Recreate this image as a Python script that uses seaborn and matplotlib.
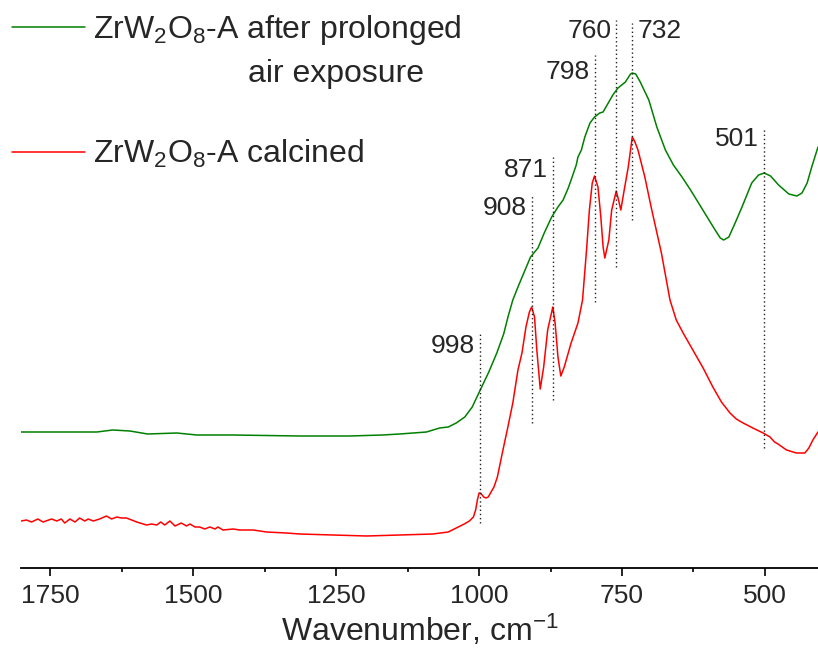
import matplotlib
matplotlib.use("Agg")
import matplotlib.pyplot as plt
import numpy as np
import pandas as pd
import seaborn as sns

# FTIR spectra, absorbance in arbitrary units (curves offset vertically)
aged_wn = [1801, 1669, 1641, 1611, 1580, 1529, 1494, 1431, 1314, 1227, 1169, 1139,
           1092, 1069, 1054, 1040, 1025, 1012, 998, 983, 969, 957, 949, 941, 932,
           921, 910, 897, 886, 873, 862, 853, 844, 839, 830, 827, 821, 815, 806,
           798, 789, 783, 774, 766, 757, 744, 735, 732, 726, 718, 703, 689, 674,
           660, 645, 630, 616, 601, 587, 578, 572, 563, 552, 540, 523, 511, 501,
           490, 476, 458, 444, 435, 426, 418, 407]
aged_abs = [1.36, 1.36, 1.38, 1.37, 1.34, 1.35, 1.33, 1.33, 1.32, 1.32, 1.33, 1.34,
            1.36, 1.40, 1.41, 1.45, 1.51, 1.61, 1.78, 1.96, 2.15, 2.34, 2.52, 2.68, 2.81,
            2.96, 3.11, 3.20, 3.35, 3.51, 3.61, 3.68, 3.80, 3.88, 4.03, 4.11, 4.18, 4.31, 4.45,
            4.51, 4.55, 4.56, 4.65, 4.73, 4.80, 4.86, 4.94, 4.95, 4.94, 4.86, 4.68, 4.41, 4.18,
            4.03, 3.91, 3.78, 3.65, 3.51, 3.38, 3.30, 3.28, 3.31, 3.45, 3.61, 3.85, 3.93, 3.95,
            3.92, 3.83, 3.74, 3.72, 3.75, 3.85, 4.01, 4.21]

calc_wn = [1801, 1792, 1783, 1772, 1763, 1748, 1739, 1731, 1725, 1716, 1707, 1699,
           1690, 1684, 1675, 1664, 1652, 1643, 1634, 1626, 1617, 1599, 1582, 1573,
           1564, 1557, 1550, 1541, 1532, 1521, 1512, 1506, 1497, 1489, 1480, 1471,
           1462, 1457, 1448, 1430, 1419, 1395, 1372, 1337, 1314, 1255, 1197, 1139,
           1081, 1054, 1040, 1026, 1017, 1010, 1006, 1003, 1000, 998, 996, 992, 988,
           984, 980, 974, 968, 959, 950, 941, 932, 925, 918, 912, 908, 903, 899, 893,
           887, 880, 871, 867, 862, 857, 851, 839, 827, 819, 812, 807, 802, 798, 792,
           787, 783, 780, 773, 768, 760, 756, 752, 747, 739, 735, 732, 728, 722, 710,
           699, 681, 666, 655, 643, 626, 608, 591, 576, 561, 550, 538, 521, 503, 491,
           483, 477, 462, 445, 430, 423, 416, 407]
calc_abs = [0.47, 0.48, 0.46, 0.49, 0.46, 0.49, 0.47, 0.49, 0.45, 0.49, 0.46, 0.50,
            0.47, 0.49, 0.47, 0.49, 0.52, 0.49, 0.51, 0.50, 0.50, 0.46, 0.43, 0.44,
            0.43, 0.46, 0.43, 0.47, 0.42, 0.45, 0.42, 0.44, 0.41, 0.41, 0.39, 0.41,
            0.39, 0.41, 0.38, 0.39, 0.38, 0.38, 0.36, 0.35, 0.34, 0.33, 0.32, 0.33,
            0.34, 0.36, 0.40, 0.44, 0.47, 0.51, 0.58, 0.68, 0.75, 0.75, 0.74, 0.71, 0.70,
            0.71, 0.75, 0.81, 0.91, 1.16, 1.40, 1.65, 1.98, 2.15, 2.41, 2.56, 2.61, 2.51, 2.18, 1.79,
            2.01, 2.38, 2.61, 2.45, 2.11, 1.92, 2.01, 2.25, 2.45, 2.68, 3.18, 3.58, 3.85, 3.92, 3.81,
            3.51, 3.21, 3.10, 3.28, 3.58, 3.77, 3.68, 3.58, 3.75, 4.01, 4.18, 4.31, 4.27, 4.18, 3.91,
            3.61, 3.15, 2.68, 2.48, 2.35, 2.18, 2.00, 1.81, 1.66, 1.55, 1.49, 1.45, 1.40, 1.35, 1.31,
            1.26, 1.24, 1.18, 1.15, 1.15, 1.20, 1.28, 1.36]

# assigned bands: position, dotted marker extent, label baseline
band_wn = [998, 908, 871, 798, 760, 732, 501]
band_low = [0.45, 1.45, 1.68, 2.66, 3.01, 3.48, 1.20]
band_high = [2.35, 3.73, 4.11, 5.13, 5.48, 5.45, 4.40]
band_text_y = [2.15, 3.53, 3.91, 4.89, 5.30, 5.30, 4.22]
band_text_side = ["left", "left", "left", "left", "left", "right", "left"]

x_ticks = [1750, 1500, 1250, 1000, 750, 500]

GREEN = "#008000"
RED = "#ff0000"

sns.set_theme(style="white")
plt.rcParams["font.family"] = ["Liberation Sans", "DejaVu Sans"]
plt.rcParams["mathtext.default"] = "regular"

df = pd.concat([
    pd.DataFrame({"wn": aged_wn, "abs": aged_abs, "sample": "aged"}),
    pd.DataFrame({"wn": calc_wn, "abs": calc_abs, "sample": "calcined"}),
])

fig = plt.figure(figsize=(8.18, 6.5), dpi=100)
ax = fig.add_axes([21.3 / 818, 82 / 650, 1 - 21.3 / 818, 568 / 650])

sns.lineplot(data=df, x="wn", y="abs", hue="sample", palette={"aged": GREEN, "calcined": RED},
             estimator=None, sort=False, linewidth=1.1, legend=False, ax=ax)

ax.vlines(band_wn, band_low, band_high, colors="#222222", linestyles=(0, (1, 2)), linewidth=1.0)
for wn, ty, side in zip(band_wn, band_text_y, band_text_side):
    if side == "left":
        ax.text(wn + 8.7, ty, str(wn), ha="right", va="baseline", fontsize=19)
    else:
        ax.text(wn - 8.7, ty, str(wn), ha="left", va="baseline", fontsize=19)

ax.set_xlim(1801, 407)
ax.set_ylim(0, 5.68)
ax.set_xticks(x_ticks)
ax.set_xticks([1625, 1375, 1125, 875, 625], minor=True)
ax.set_yticks([])
for side in ["left", "right", "top"]:
    ax.spines[side].set_visible(False)
ax.spines["bottom"].set_linewidth(1.3)
ax.spines["bottom"].set_color("black")
ax.tick_params(axis="x", which="major", direction="out", length=5.8, width=1.2,
               color="black", labelsize=19, pad=6, bottom=True)
ax.tick_params(axis="x", which="minor", direction="out", length=3, width=1.2,
               color="black", bottom=True)
ax.set_xlabel("Wavenumber, cm$^{-1}$", fontsize=23, labelpad=3)
ax.set_ylabel("")

# legend drawn in figure coordinates
fig.add_artist(plt.Line2D([12 / 818, 85 / 818], [1 - 26.7 / 650] * 2, color=GREEN, lw=1.1))
fig.add_artist(plt.Line2D([12 / 818, 85 / 818], [1 - 151.7 / 650] * 2, color=RED, lw=1.1))
fig.text(93 / 818, 1 - 37.7 / 650, "ZrW$_2$O$_8$-A after prolonged", fontsize=23, va="baseline")
fig.text(248.3 / 818, 1 - 82.3 / 650, "air exposure", fontsize=23, va="baseline")
fig.text(93 / 818, 1 - 162.7 / 650, "ZrW$_2$O$_8$-A calcined", fontsize=23, va="baseline")

fig.savefig("out.png", dpi=100)
